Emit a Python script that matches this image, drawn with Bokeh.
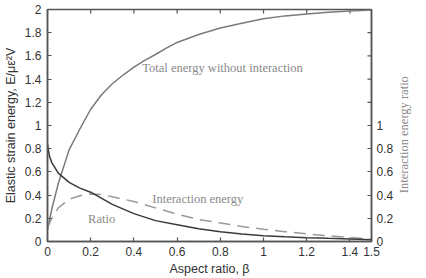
import math
from bokeh.plotting import figure
from bokeh.layouts import row
from bokeh.models import Range1d, LinearAxis, FixedTicker, NumeralTickFormatter
from bokeh.core.properties import value
from bokeh.embed import file_html
from bokeh.resources import INLINE

# ---- data ----
beta_total = [0, 0.02, 0.05, 0.1, 0.15, 0.2, 0.25, 0.3, 0.35, 0.4, 0.45, 0.5, 0.55, 0.6, 0.7, 0.8, 0.9, 1.0, 1.1, 1.2, 1.3, 1.4, 1.5]
total_energy = [0.1, 0.28, 0.5, 0.79, 0.97, 1.14, 1.265, 1.36, 1.435, 1.503, 1.562, 1.612, 1.667, 1.716, 1.785, 1.84, 1.882, 1.92, 1.945, 1.962, 1.976, 1.987, 1.995]

beta_inter = [0, 0.02, 0.05, 0.1, 0.15, 0.2, 0.25, 0.3, 0.4, 0.5, 0.6, 0.7, 0.8, 0.9, 1.0, 1.1, 1.2, 1.3, 1.4, 1.5]
interaction_energy = [0.12, 0.2, 0.29, 0.365, 0.395, 0.41, 0.405, 0.385, 0.345, 0.29, 0.235, 0.19, 0.16, 0.13, 0.105, 0.085, 0.065, 0.05, 0.035, 0.02]

beta_ratio = [0, 0.005, 0.01, 0.02, 0.05, 0.1, 0.15, 0.2, 0.3, 0.4, 0.5, 0.6, 0.7, 0.8, 0.9, 1.0, 1.1, 1.2, 1.3, 1.4, 1.5]
ratio = [0.84, 0.78, 0.73, 0.68, 0.59, 0.51, 0.46, 0.425, 0.32, 0.24, 0.18, 0.145, 0.11, 0.085, 0.065, 0.05, 0.04, 0.033, 0.027, 0.022, 0.015]

x_ticks = [0, 0.2, 0.4, 0.6, 0.8, 1.0, 1.2, 1.4, 1.5]
left_ticks = [0, 0.2, 0.4, 0.6, 0.8, 1.0, 1.2, 1.4, 1.6, 1.8, 2.0]
right_ticks = [0, 0.2, 0.4, 0.6, 0.8, 1.0]
right_unlabeled_ticks = [1.2, 1.4, 1.6, 1.8]

AX = "#555555"
TXT = "#333333"
SANS = "Liberation Sans"
SERIF = "Liberation Serif"
LAB = "#8a8a8a"

X_MAX = 1.5
Y_MAX = 2.0

p = figure(width=396, height=278, output_backend="svg", toolbar_location=None,
           x_range=Range1d(0, X_MAX), y_range=Range1d(0, Y_MAX),
           min_border_left=45, min_border_right=22, min_border_top=9, min_border_bottom=34)
p.extra_y_ranges = {"ratio": Range1d(0, Y_MAX)}
p.grid.visible = False
p.background_fill_color = "white"
p.border_fill_color = "white"
p.outline_line_color = AX
p.outline_line_width = 1.5
p.outline_line_alpha = 1.0


def style(ax):
    ax.axis_line_color = AX
    ax.axis_line_width = 1.5
    ax.major_tick_line_color = AX
    ax.major_tick_line_width = 1.2
    ax.major_tick_in = 4
    ax.major_tick_out = 0
    ax.minor_tick_line_color = None
    ax.major_label_text_font = SANS
    ax.major_label_text_font_size = "12px"
    ax.major_label_text_color = TXT
    ax.axis_label_text_font = SANS
    ax.axis_label_text_font_size = "12.5px"
    ax.axis_label_text_font_style = "normal"
    ax.axis_label_text_color = TXT


xa = p.xaxis[0]
style(xa)
xa.ticker = FixedTicker(ticks=x_ticks)
xa.formatter = NumeralTickFormatter(format="0.[0]")
xa.axis_label = "Aspect ratio, β"
xa.major_label_standoff = 5
xa.axis_label_standoff = 3

ya = p.yaxis[0]
style(ya)
ya.ticker = FixedTicker(ticks=left_ticks)
ya.formatter = NumeralTickFormatter(format="0.[0]")
ya.axis_label = "Elastic strain energy, E/με²V"
ya.major_label_standoff = 6
ya.axis_label_standoff = 4

ra = LinearAxis(y_range_name="ratio")
style(ra)
ra.ticker = FixedTicker(ticks=right_ticks)
ra.formatter = NumeralTickFormatter(format="0.[0]")
ra.major_label_standoff = 5
p.add_layout(ra, "right")

# inward tick marks on the top edge and the unlabelled upper ticks on the right edge
p.scatter(x=x_ticks, y=[Y_MAX] * len(x_ticks), marker="dash", size=8, angle=math.pi / 2,
          line_color=AX, line_width=1.2)
p.scatter(x=[X_MAX] * len(right_unlabeled_ticks), y=right_unlabeled_ticks, y_range_name="ratio",
          marker="dash", size=8, line_color=AX, line_width=1.2)

p.line(beta_total, total_energy, line_color="#7a7a7a", line_width=1.5)
p.line(beta_inter, interaction_energy, line_color="#9a9a9a", line_width=1.5, line_dash="12 7")
p.line(beta_ratio, ratio, line_color="#3a3a3a", line_width=1.5, y_range_name="ratio")

p.text(x=[0.439], y=[1.498], text=["Total energy without interaction"],
       text_font=value(SERIF), text_font_size="12.5px", text_color=LAB,
       text_align="left", text_baseline="middle")
p.text(x=[0.485], y=[0.368], text=["Interaction energy"],
       text_font=value(SERIF), text_font_size="12.5px", text_color=LAB,
       text_align="left", text_baseline="middle")
p.text(x=[0.188], y=[0.19], text=["Ratio"],
       text_font=value(SERIF), text_font_size="12.5px", text_color=LAB,
       text_align="left", text_baseline="middle")

# narrow strip holding the right-hand axis title (reads bottom to top)
q = figure(width=30, height=278, output_backend="svg", toolbar_location=None,
           x_range=Range1d(0, 30), y_range=Range1d(0, 278),
           x_axis_type=None, y_axis_type=None,
           min_border_left=0, min_border_right=0, min_border_top=0, min_border_bottom=0)
q.grid.visible = False
q.outline_line_color = None
q.background_fill_color = "white"
q.border_fill_color = "white"
q.text(x=[7], y=[128], text=["Interaction energy ratio"], angle=math.pi / 2,
       text_font=value(SERIF), text_font_size="12.5px", text_color=LAB,
       text_align="center", text_baseline="middle")

layout = row(p, q, spacing=0)
open("out.html", "w").write(file_html(layout, INLINE))
